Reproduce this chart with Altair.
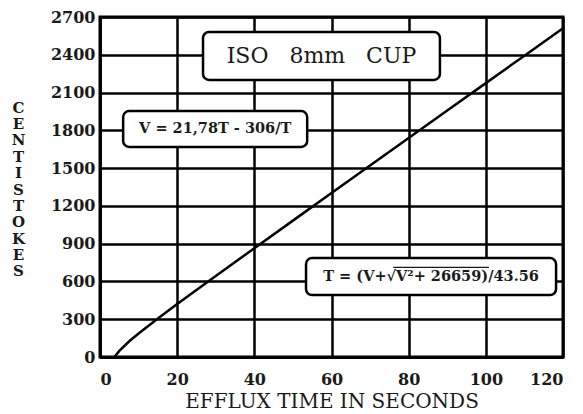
import altair as alt
import pandas as pd

# curve (efflux seconds -> centistokes)
efflux_s = [3.75, 5, 7.5, 10, 15, 20, 30, 40, 50, 60, 70, 80, 90, 100, 110, 120]
centistokes = [0, 48, 123, 187, 306, 420, 643, 864, 1083, 1302, 1520, 1739, 1957, 2175, 2393, 2611]

x_ticks = [0, 20, 40, 60, 80, 100, 120]
y_ticks = [0, 300, 600, 900, 1200, 1500, 1800, 2100, 2400, 2700]

# annotation boxes
NB = "\u00a0"
box_text = ["ISO" + NB * 3 + "8mm" + NB * 3 + "CUP",
            "V = 21,78T - 306/T",
            "T = (V+\u221aV\u00b2+ 26659)/43.56"]
box_x0 = [26.7, 6.0, 53.4]
box_x1 = [88.1, 53.7, 118.2]
box_y0 = [2200, 1668, 492]
box_y1 = [2581, 1953, 786]
box_size = [22, 14.5, 14.5]
box_bold = [False, True, True]

# vinculum of the square root in the lower box
over_x0 = [76.0]
over_x1 = [100.8]
over_y = [712]

curve = pd.DataFrame({"t": efflux_s, "v": centistokes})
boxes = pd.DataFrame({
    "label": box_text, "t": box_x0, "t2": box_x1, "v": box_y0, "v2": box_y1,
    "tc": [(a + b) / 2 for a, b in zip(box_x0, box_x1)],
    "vc": [(a + b) / 2 for a, b in zip(box_y0, box_y1)],
    "size": box_size, "bold": box_bold,
})
over = pd.DataFrame({"t": over_x0, "t2": over_x1, "v": over_y})

FONT = "DejaVu Serif"
INK = "#1a1a1a"
xs = alt.Scale(domain=[0, 120], nice=False, zero=False)
ys = alt.Scale(domain=[0, 2700], nice=False)

x_axis = alt.Axis(
    values=x_ticks, format="d", title="EFFLUX TIME IN SECONDS", grid=True,
    gridColor="black", gridWidth=2.5, gridOpacity=1, domainColor="black",
    domainWidth=3, ticks=False, labelOverlap=False,
    labelFont=FONT, labelFontWeight="bold", labelFontSize=16, labelColor=INK,
    labelPadding=14, titleFont=FONT, titleFontWeight="normal", titleFontSize=20,
    titleColor=INK, titlePadding=4)
y_axis = alt.Axis(
    values=y_ticks, format="d", title=list("CENTISTOKES"), titleAngle=0,
    titleAlign="center", titleBaseline="top", titleX=-82, titleY=83,
    titleLineHeight=16.4, titleFont=FONT, titleFontWeight="bold",
    titleFontSize=15, titleColor=INK,
    grid=True, gridColor="black", gridWidth=2.5, gridOpacity=1,
    domainColor="black", domainWidth=3, ticks=False, labelOverlap=False,
    labelFont=FONT, labelFontWeight="bold", labelFontSize=16, labelColor=INK,
    labelPadding=5)

def X(field):
    return alt.X(field, scale=xs, axis=x_axis, title="EFFLUX TIME IN SECONDS")

def Y(field):
    return alt.Y(field, scale=ys, axis=y_axis, title=list("CENTISTOKES"))

line = alt.Chart(curve).mark_line(color="black", strokeWidth=2.5).encode(
    x=X("t:Q"), y=Y("v:Q"))

rects = alt.Chart(boxes).mark_rect(fill="white", stroke="black", strokeWidth=2.5,
                                   cornerRadius=6).encode(
    x=X("t:Q"), x2="t2", y=Y("v:Q"), y2="v2")

text_normal = alt.Chart(boxes).transform_filter("!datum.bold").mark_text(
    font=FONT, color=INK, fontWeight="normal").encode(
    x=X("tc:Q"), y=Y("vc:Q"), text="label:N",
    size=alt.Size("size:Q", scale=None, legend=None))

text_bold = alt.Chart(boxes).transform_filter("datum.bold").mark_text(
    font=FONT, color=INK, fontWeight="bold").encode(
    x=X("tc:Q"), y=Y("vc:Q"), text="label:N",
    size=alt.Size("size:Q", scale=None, legend=None))

vinculum = alt.Chart(over).mark_rule(color=INK, strokeWidth=1.2).encode(
    x=X("t:Q"), x2="t2", y=Y("v:Q"))

chart = alt.layer(line, rects, text_normal, text_bold, vinculum).properties(
    width=463, height=340,
    background="white",
    autosize=alt.AutoSizeParams(type="none"),
    padding={"left": 92, "top": 9, "right": 12, "bottom": 56},
).configure_view(stroke="black", strokeWidth=3)

chart.save("out.html", embed_options={"renderer": "svg", "actions": False})
